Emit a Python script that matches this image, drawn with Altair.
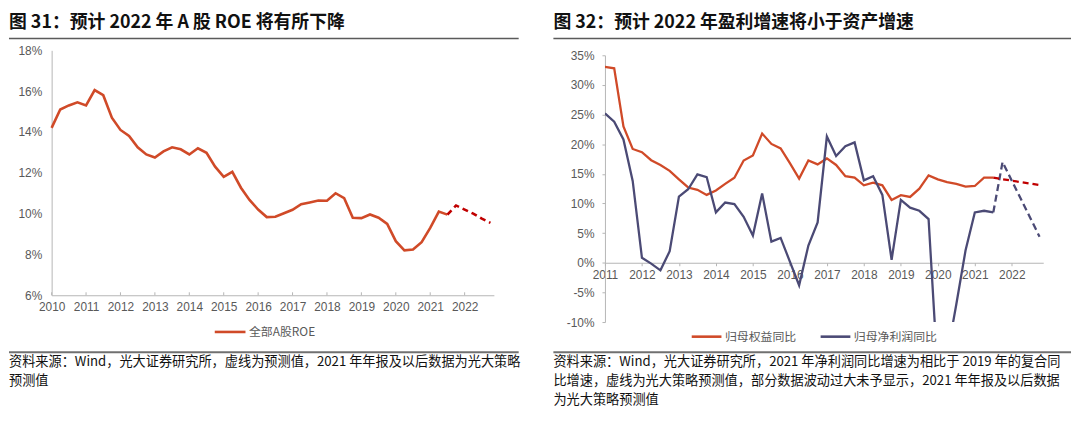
import altair as alt
import pandas as pd

# ---------------- Left panel data: 全部A股ROE (quarterly, %) ----------------
roe_start = 2010.0
roe_actual = [
    14.2, 15.1, 15.3, 15.45,
    15.3, 16.05, 15.8, 14.7,
    14.1, 13.8, 13.25, 12.9,
    12.75, 13.05, 13.25, 13.15,
    12.9, 13.2, 12.98, 12.3,
    11.8, 12.05, 11.27, 10.67,
    10.2, 9.83, 9.85, 10.02,
    10.19, 10.46, 10.55, 10.64,
    10.63, 11.0, 10.76, 9.8,
    9.78, 9.96, 9.8, 9.5,
    8.65, 8.2, 8.24, 8.6,
    9.3, 10.1, 9.95,
]
roe_fc_start = 2021.5
roe_forecast = [9.95, 10.4, 10.2, 10.0, 9.75, 9.55]
left_years = list(range(2010, 2023))
left_yticks = [6, 8, 10, 12, 14, 16, 18]

# ---------------- Right panel data (quarterly, %) ----------------
growth_start = 2011.0
equity_actual = [
    33.05, 32.8, 23.0, 19.2,
    18.65, 17.3, 16.5, 15.5,
    14.07, 12.7, 12.3, 11.45,
    12.2, 13.3, 14.35, 17.25,
    18.1, 21.8, 20.05, 19.3,
    16.8, 14.2, 17.25, 16.6,
    17.6, 16.5, 14.6, 14.35,
    13.07, 13.5, 13.07, 10.6,
    11.4, 11.1, 12.5, 14.74,
    14.07, 13.6, 13.3, 12.84,
    12.95, 14.35, 14.35,
]
profit_actual = [
    25.2, 23.8, 20.8, 13.8,
    0.84, -0.15, -1.28, 1.95,
    11.17, 12.4, 14.9, 14.46,
    8.5, 10.16, 9.9, 7.76,
    4.58, 11.7, 3.57, 4.2,
    0.2, -3.8, 2.9, 6.8,
    21.3, 18.0, 19.65, 20.3,
    13.9, 14.6, 11.45, 0.5,
    10.6, 9.3, 8.77, 7.37,
    -19.0, -15.7, -7.0, 2.1,
    8.5, 8.77, 8.5,
]
growth_fc_start = 2021.5
equity_forecast = [14.35, 14.1, 13.85, 13.6, 13.35, 13.1]
profit_forecast = [8.5, 17.0, 13.85, 10.7, 7.55, 4.4]
right_years = list(range(2011, 2023))
right_yticks = [-10, -5, 0, 5, 10, 15, 20, 25, 30, 35]

left_title = "图 31：预计 2022 年 A 股 ROE 将有所下降"
right_title = "图 32：预计 2022 年盈利增速将小于资产增速"
left_notes = ["资料来源：Wind，光大证券研究所，虚线为预测值，2021 年年报及以后数据为光大策略",
              "预测值"]
right_notes = ["资料来源：Wind，光大证券研究所，2021 年净利润同比增速为相比于 2019 年的复合同",
               "比增速，虚线为光大策略预测值，部分数据波动过大未予显示，2021 年年报及以后数据",
               "为光大策略预测值"]
left_series = ["全部A股ROE"]
right_series = ["归母权益同比", "归母净利润同比"]

RED = "#D04A28"
RED_DASH = "#C00000"
NAVY = "#4B4A75"
AXIS = "#B5B5B5"
LAB = "#595959"
CJK = "Noto Sans CJK SC"
LAT = "Liberation Sans"


def qframe(start, vals, name=None):
    d = pd.DataFrame({"t": [start + 0.25 * i for i in range(len(vals))], "v": vals})
    if name is not None:
        d["s"] = name
    return d


one = pd.DataFrame({"a": [0]})


def deco(title, notes, x0, x1):
    layers = []
    # invisible rule fixing the top of the panel bounds
    layers.append(alt.Chart(one).mark_rule(opacity=0).encode(
        x=alt.value(0), x2=alt.value(5), y=alt.value(-41)))
    layers.append(alt.Chart(one).mark_text(
        text=title, font=CJK, fontSize=18, fontWeight="bold", color="#111111",
        align="left", baseline="middle").encode(x=alt.value(x0), y=alt.value(-28)))
    layers.append(alt.Chart(one).mark_rule(color="#5a5a5a", strokeWidth=1.6).encode(
        x=alt.value(x0), x2=alt.value(x1), y=alt.value(-12)))
    layers.append(alt.Chart(one).mark_rule(color="#707070", strokeWidth=2).encode(
        x=alt.value(x0), x2=alt.value(x1), y=alt.value(304.5)))
    for i, line in enumerate(notes):
        layers.append(alt.Chart(one).mark_text(
            text=line, font=CJK, fontSize=13.3, color="#111111",
            align="left", baseline="middle").encode(
            x=alt.value(x0), y=alt.value(314.5 + 19.2 * i)))
    return layers


def legend(x, y, size):
    return alt.Legend(orient="none", legendX=x, legendY=y, direction="horizontal",
                      title=None, padding=0, symbolType="stroke", symbolSize=size,
                      symbolStrokeWidth=2.6, labelFont=CJK, labelFontSize=12,
                      labelColor=LAB, labelOffset=2, columnPadding=18)


# ---------------- Left panel ----------------
LW, LH = 446, 247
lx = alt.X("t:Q", title=None,
           scale=alt.Scale(domain=[2010, 2022.85], nice=False, zero=False),
           axis=alt.Axis(values=left_years, format="d", ticks=False, labelPadding=6,
                         domainColor=AXIS, grid=False, labelFont=LAT, labelFontSize=12,
                         labelColor=LAB, labelFlush=False, labelOverlap=False))
ly = alt.Y("v:Q", title=None,
           scale=alt.Scale(domain=[6, 18], nice=False, zero=False),
           axis=alt.Axis(values=left_yticks, labelExpr="datum.value + '%'", ticks=False,
                         labelPadding=10, domainColor=AXIS, grid=False, labelFont=LAT,
                         labelFontSize=12, labelColor=LAB, labelOverlap=False))

left_line = alt.Chart(qframe(roe_start, roe_actual, left_series[0])).mark_line(
    strokeWidth=2.6).encode(
    x=lx, y=ly,
    color=alt.Color("s:N", scale=alt.Scale(domain=left_series, range=[RED]),
                    legend=legend(163, 267, 960)))
left_dash = alt.Chart(qframe(roe_fc_start, roe_forecast)).mark_line(
    strokeWidth=2.6, strokeDash=[6, 4], color=RED_DASH).encode(x=lx, y=ly)
left_ticks = alt.Chart(pd.DataFrame({"t": left_years})).mark_rule(color=AXIS).encode(
    x=lx, y=alt.value(LH - 3), y2=alt.value(LH))

left = alt.layer(
    left_line, left_dash, left_ticks,
    *deco(left_title, left_notes, -43, 471)
).properties(width=LW, height=LH)

# ---------------- Right panel ----------------
RW, RH = 442, 274
RTOP = 5
zero_px = RTOP + (RH - RTOP) * 35 / 45
rx = alt.X("t:Q", title=None,
           scale=alt.Scale(domain=[2011, 2022.85], nice=False, zero=False),
           axis=alt.Axis(values=right_years, format="d", tickSize=3, tickColor=AXIS,
                         labelPadding=4, domainColor=AXIS, grid=False,
                         offset=-(RH - zero_px),
                         labelFont=LAT, labelFontSize=12, labelColor=LAB,
                         labelFlush=False, labelOverlap=False))
ry = alt.Y("v:Q", title=None,
           scale=alt.Scale(domain=[-10, 35], range=[RH, RTOP], nice=False, zero=False),
           axis=alt.Axis(values=right_yticks, labelExpr="datum.value + '%'", tickSize=3,
                         tickColor=AXIS, labelPadding=8, domainColor=AXIS, grid=False,
                         labelFont=LAT, labelFontSize=12, labelColor=LAB,
                         labelOverlap=False))

rdf = pd.concat([qframe(growth_start, equity_actual, right_series[0]),
                 qframe(growth_start, profit_actual, right_series[1])])
right_lines = alt.Chart(rdf).mark_line(strokeWidth=2.3, clip=True).encode(
    x=rx, y=ry,
    color=alt.Color("s:N", scale=alt.Scale(domain=right_series, range=[RED, NAVY]),
                    sort=right_series, legend=legend(86, 272, 900)))
right_dash_eq = alt.Chart(qframe(growth_fc_start, equity_forecast)).mark_line(
    strokeWidth=2.3, strokeDash=[6, 4], color=RED_DASH, clip=True).encode(x=rx, y=ry)
right_dash_pr = alt.Chart(qframe(growth_fc_start, profit_forecast)).mark_line(
    strokeWidth=2.3, strokeDash=[7, 4], color=NAVY, clip=True).encode(x=rx, y=ry)

right = alt.layer(
    right_lines, right_dash_pr, right_dash_eq,
    *deco(right_title, right_notes, -52, 470)
).properties(width=RW, height=RH)

chart = alt.hconcat(left, right, spacing=31).resolve_scale(
    x="independent", y="independent", color="independent"
).resolve_legend(color="independent").properties(padding=0).configure_view(stroke=None)

chart.save("out.html", embed_options={"renderer": "svg", "actions": False})
